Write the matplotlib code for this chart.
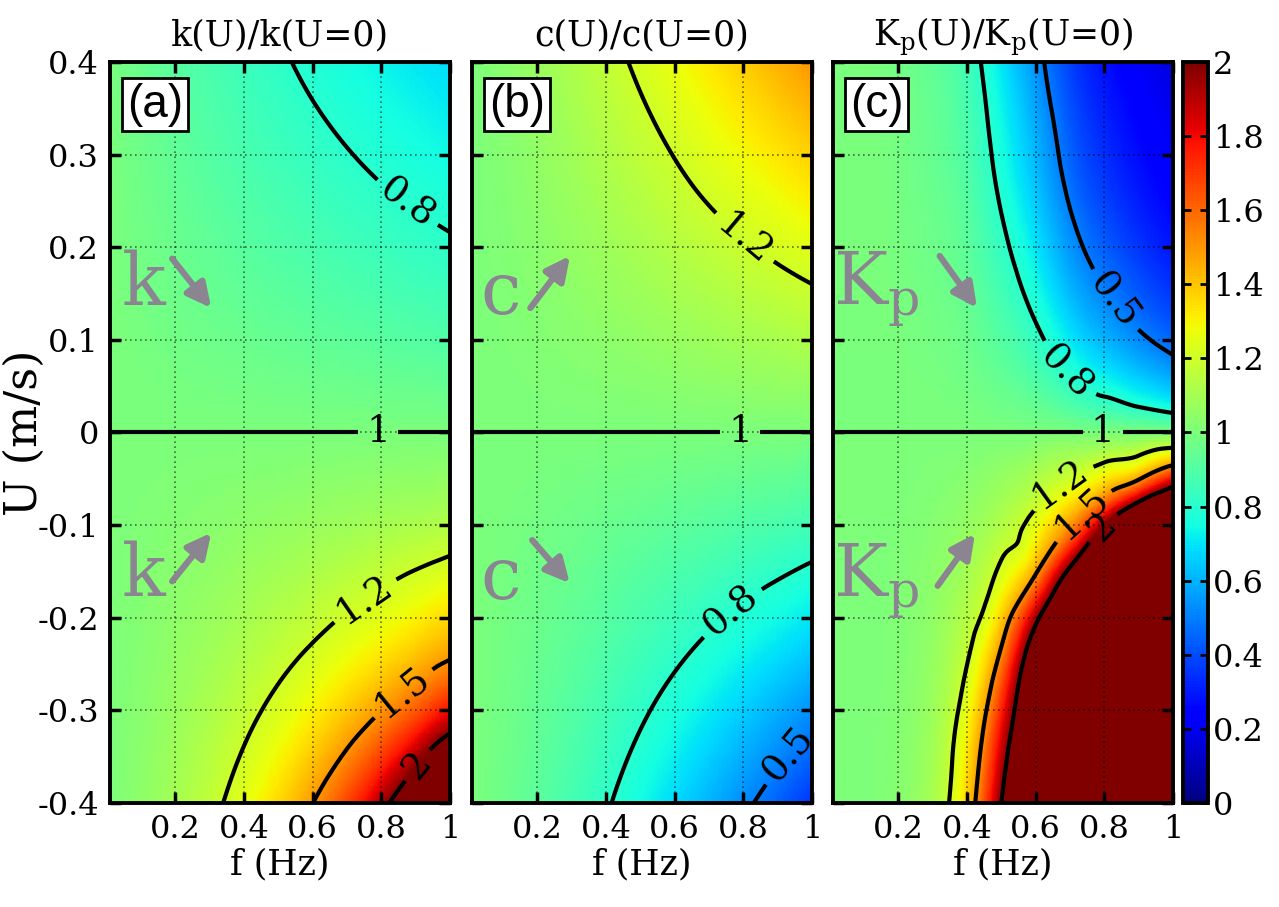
#!/usr/bin/env python

# k, c and Kp ratios vs frequency and current speed

import numpy as np
import matplotlib.pyplot as plt
import matplotlib.tri as mtri
from matplotlib.cm import ScalarMappable
from matplotlib.colors import Normalize

plt.rcParams['font.family'] = 'DejaVu Serif'
plt.rcParams['mathtext.fontset'] = 'dejavuserif'
plt.rcParams['axes.unicode_minus'] = False

# Values

f_vals = [0.01, 0.1, 0.2, 0.3, 0.4, 0.5, 0.6, 0.7, 0.8, 0.9, 1.0]
u_ab = [-0.4, -0.3, -0.2, -0.1, 0.0, 0.1, 0.2, 0.3, 0.4]

k_ratio = [
    [1.004, 1.046, 1.101, 1.169, 1.254, 1.361, 1.498, 1.679, 1.928, 2.286, 2.847],
    [1.003, 1.033, 1.072, 1.117, 1.169, 1.231, 1.304, 1.392, 1.498, 1.629, 1.793],
    [1.002, 1.022, 1.046, 1.072, 1.101, 1.134, 1.169, 1.209, 1.254, 1.304, 1.361],
    [1.001, 1.011, 1.022, 1.033, 1.046, 1.058, 1.072, 1.086, 1.101, 1.117, 1.134],
    [1.000, 1.000, 1.000, 1.000, 1.000, 1.000, 1.000, 1.000, 1.000, 1.000, 1.000],
    [0.999, 0.989, 0.977, 0.966, 0.956, 0.945, 0.935, 0.925, 0.915, 0.905, 0.896],
    [0.998, 0.977, 0.956, 0.935, 0.915, 0.896, 0.878, 0.860, 0.843, 0.827, 0.812],
    [0.997, 0.966, 0.935, 0.905, 0.878, 0.852, 0.827, 0.804, 0.782, 0.762, 0.742],
    [0.995, 0.956, 0.915, 0.878, 0.843, 0.812, 0.782, 0.755, 0.729, 0.705, 0.683],
]

c_ratio = [
    [0.998, 0.966, 0.921, 0.868, 0.810, 0.747, 0.678, 0.604, 0.525, 0.441, 0.351],
    [0.998, 0.975, 0.941, 0.903, 0.860, 0.814, 0.765, 0.713, 0.657, 0.598, 0.536],
    [0.999, 0.983, 0.961, 0.936, 0.909, 0.879, 0.848, 0.815, 0.780, 0.744, 0.705],
    [0.9995, 0.992, 0.981, 0.968, 0.955, 0.941, 0.926, 0.911, 0.894, 0.878, 0.860],
    [1.000, 1.000, 1.000, 1.000, 1.000, 1.000, 1.000, 1.000, 1.000, 1.000, 1.000],
    [1.0005, 1.008, 1.018, 1.030, 1.042, 1.054, 1.068, 1.082, 1.096, 1.110, 1.125],
    [1.001, 1.016, 1.036, 1.059, 1.083, 1.109, 1.136, 1.163, 1.191, 1.220, 1.250],
    [1.0015, 1.024, 1.054, 1.089, 1.125, 1.163, 1.203, 1.245, 1.287, 1.330, 1.375],
    [1.002, 1.032, 1.073, 1.118, 1.167, 1.218, 1.271, 1.326, 1.383, 1.441, 1.500],
]

u_c = [-0.4, -0.3, -0.2, -0.15, -0.1, -0.075, -0.05, -0.025, 0.0,
       0.025, 0.05, 0.1, 0.15, 0.2, 0.3, 0.4]

# beyond 2 the picture saturates; those cells carry rough off-scale estimates
kp_ratio = [
    [1.0004, 1.0040, 1.029, 1.111, 1.379, 2.0, 2.7, 3.4, 4.1, 4.8, 5.5],
    [1.0003, 1.0030, 1.021, 1.081, 1.27, 1.743, 2.45, 3.15, 3.85, 4.55, 5.25],
    [1.0002, 1.0020, 1.014, 1.053, 1.142, 1.38, 1.93, 2.63, 3.33, 4.03, 4.73],
    [1.0002, 1.0015, 1.011, 1.039, 1.10, 1.225, 1.475, 2.06, 2.69, 3.31, 3.94],
    [1.0001, 1.0010, 1.007, 1.026, 1.06, 1.13, 1.26, 1.50, 2.0, 2.6, 3.2],
    [1.0001, 1.0008, 1.005, 1.019, 1.045, 1.095, 1.18, 1.334, 1.583, 2.0, 2.42],
    [1.0001, 1.0005, 1.0035, 1.0127, 1.030, 1.065, 1.12, 1.20, 1.326, 1.484, 1.81],
    [1.0001, 1.0003, 1.0018, 1.0063, 1.015, 1.032, 1.06, 1.10, 1.149, 1.2, 1.32],
    [1.0, 1.0, 1.0, 1.0, 1.0, 1.0, 1.0, 1.0, 1.0, 1.0, 1.0],
    [0.9999, 0.9998, 0.9985, 0.9955, 0.990, 0.974, 0.950, 0.907, 0.862, 0.816, 0.769],
    [0.9999, 0.9995, 0.9970, 0.9911, 0.979, 0.950, 0.905, 0.830, 0.758, 0.690, 0.625],
    [0.9999, 0.9990, 0.9940, 0.9823, 0.960, 0.905, 0.826, 0.709, 0.610, 0.526, 0.455],
    [0.9998, 0.9985, 0.9911, 0.9737, 0.941, 0.864, 0.760, 0.619, 0.510, 0.426, 0.357],
    [0.9998, 0.9980, 0.9881, 0.9653, 0.923, 0.826, 0.704, 0.549, 0.439, 0.357, 0.294],
    [0.9997, 0.9970, 0.9823, 0.9488, 0.888, 0.760, 0.613, 0.448, 0.342, 0.270, 0.217],
    [0.9996, 0.9960, 0.9766, 0.9328, 0.856, 0.704, 0.543, 0.379, 0.281, 0.217, 0.172],
]

levels_a = [0.8, 1.2, 1.5, 2.0]
levels_b = [0.5, 0.8, 1.2]
levels_c = [0.5, 0.8, 1.2, 1.5, 2.0]

x_ticks = [0.2, 0.4, 0.6, 0.8, 1.0]
x_labels = ['0.2', '0.4', '0.6', '0.8', '1']
y_ticks = [-0.4, -0.3, -0.2, -0.1, 0.0, 0.1, 0.2, 0.3, 0.4]
y_labels = ['-0.4', '-0.3', '-0.2', '-0.1', '0', '0.1', '0.2', '0.3', '0.4']
cb_ticks = [0, 0.2, 0.4, 0.6, 0.8, 1.0, 1.2, 1.4, 1.6, 1.8, 2.0]
cb_labels = ['0', '0.2', '0.4', '0.6', '0.8', '1', '1.2', '1.4', '1.6', '1.8', '2']

titles = ['k(U)/k(U=0)', 'c(U)/c(U=0)',
          r'K$_\mathregular{p}$(U)/K$_\mathregular{p}$(U=0)']
tags = ['(a)', '(b)', '(c)']
gray = '#8a8590'
lab_size = 27


def field(ax, rows, u_list, levels, spots, one_spot):
    ff, uu = np.meshgrid(f_vals, u_list)
    tri = mtri.Triangulation(ff.ravel(), uu.ravel())
    z = np.asarray(rows, dtype=float).ravel()
    interp = mtri.CubicTriInterpolator(tri, z, kind='min_E')
    tri_r, z_r = mtri.UniformTriRefiner(tri).refine_field(z, triinterpolator=interp, subdiv=4)
    ax.tripcolor(tri_r, z_r, shading='gouraud', cmap='jet', vmin=0, vmax=2)
    cs = ax.tricontour(tri_r, z_r, levels=levels, colors='k', linewidths=3)
    ax.clabel(cs, fmt=lambda v: f'{v:g}', manual=spots, inline=True,
              inline_spacing=8, fontsize=lab_size)
    # the ratio is exactly 1 along U = 0
    cs1 = ax.tricontour(tri, z, levels=[1.0], colors='k', linewidths=3)
    ax.clabel(cs1, fmt=lambda v: f'{v:g}', manual=[one_spot], inline=True,
              inline_spacing=8, fontsize=lab_size)


fig = plt.figure(figsize=(12.79, 9.07), dpi=100)

lefts = [110 / 1279, 472 / 1279, 833 / 1279]
axs = [fig.add_axes([l, 0.1147, 340 / 1279, 0.817]) for l in lefts]

field(axs[0], k_ratio, u_ab, levels_a,
      [(0.86, 0.24), (0.75, -0.18), (0.86, -0.28), (0.94, -0.37)], (0.79, 0.0))
field(axs[1], c_ratio, u_ab, levels_b,
      [(0.78, 0.2), (0.78, -0.2), (0.94, -0.35)], (0.79, 0.0))
field(axs[2], kp_ratio, u_c, levels_c,
      [(0.69, 0.066), (0.82, 0.14), (0.68, -0.062), (0.74, -0.09), (0.81, -0.108)],
      (0.795, 0.0))

for i, ax in enumerate(axs):
    ax.set_xlim(0.01, 1)
    ax.set_ylim(-0.4, 0.4)
    ax.set_xticks(x_ticks)
    ax.set_xticklabels(x_labels)
    ax.set_yticks(y_ticks)
    if i == 0:
        ax.set_yticklabels(y_labels)
    else:
        ax.set_yticklabels([])
    ax.tick_params(direction='in', top=True, right=True, length=8, width=2.5,
                   labelsize=23, pad=8)
    ax.grid(True, color='k', linestyle=(0, (1, 2)), linewidth=1.2, alpha=0.55)
    for s in ax.spines.values():
        s.set_linewidth(2.8)
    ax.set_title(titles[i], fontsize=25, pad=12)
    ax.set_xlabel('f (Hz)', fontsize=25, labelpad=2)
    ax.text(0.05, 0.9425, tags[i], transform=ax.transAxes, fontsize=33,
            family='Liberation Sans', ha='left', va='center',
            bbox=dict(facecolor='white', edgecolor='k', linewidth=2,
                      boxstyle='square,pad=0.1'))

fig.text(24 / 1279, 0.523, 'U (m/s)', rotation=90, fontsize=32,
         ha='center', va='center')

# gray hints: letters with arrows
hints = [
    (0, 'k', (0.107, 0.16), (0.186, 0.19), (0.31, 0.132)),
    (0, 'k', (0.107, -0.155), (0.186, -0.163), (0.31, -0.106)),
    (1, 'c', (0.092, 0.15), (0.175, 0.132), (0.30, 0.193)),
    (1, 'c', (0.092, -0.158), (0.18, -0.114), (0.30, -0.165)),
    (2, r'$\mathregular{K_p}$', (0.135, 0.155), (0.316, 0.193), (0.434, 0.132)),
    (2, r'$\mathregular{K_p}$', (0.135, -0.16), (0.31, -0.168), (0.428, -0.107)),
]
for i, txt, pos, start, end in hints:
    axs[i].text(pos[0], pos[1], txt, fontsize=52, color=gray, ha='center', va='center')
    axs[i].annotate('', xy=end, xytext=start,
                    arrowprops=dict(arrowstyle='-|>', color=gray, lw=4.5, mutation_scale=36))

# colour bar
cax = fig.add_axes([1183 / 1279, 0.1147, 25 / 1279, 0.817])
cb = fig.colorbar(ScalarMappable(norm=Normalize(0, 2), cmap='jet'), cax=cax, ticks=cb_ticks)
cb.ax.set_yticklabels(cb_labels)
cb.ax.tick_params(direction='in', left=True, right=True, length=6, width=2, labelsize=23)
cb.outline.set_linewidth(2.8)

plt.savefig('out.png', dpi=100)
